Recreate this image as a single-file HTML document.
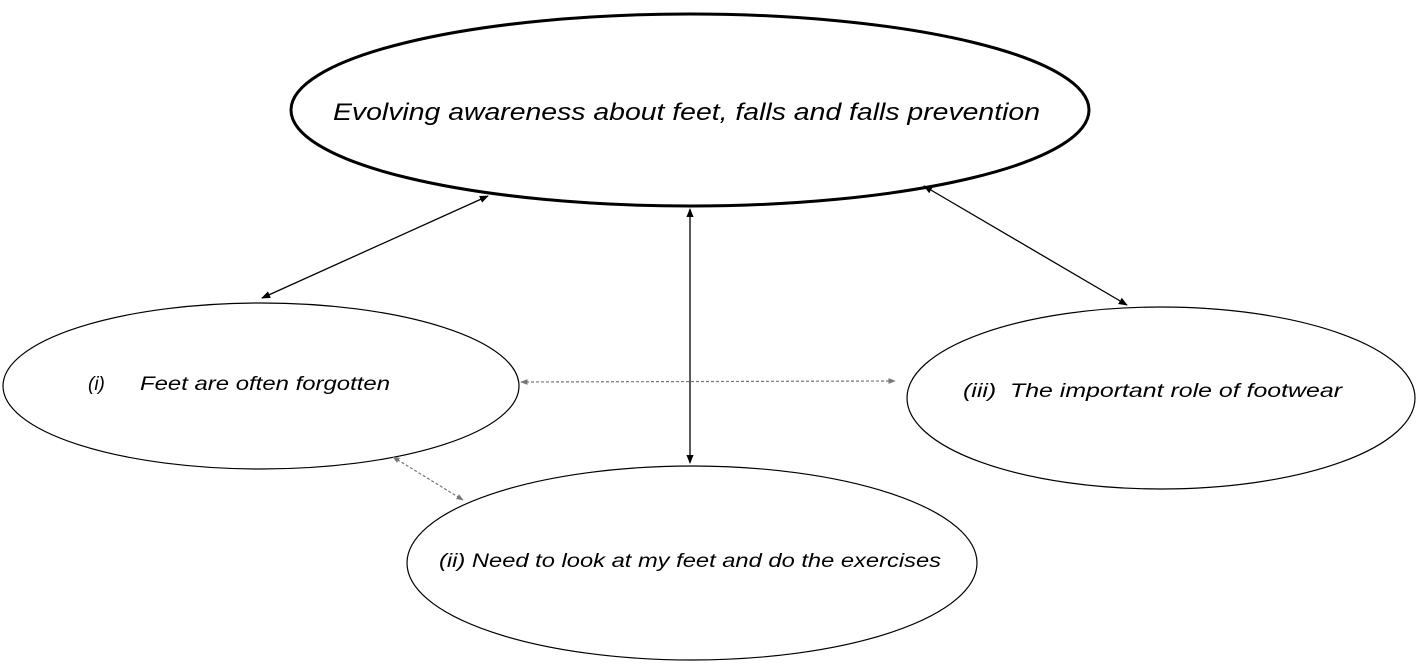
<!DOCTYPE html>
<html><head><meta charset="utf-8"><style>html,body{margin:0;padding:0;background:#fff;}svg{display:block}</style></head>
<body>
<svg width="1418" height="665" viewBox="0 0 1418 665" xmlns="http://www.w3.org/2000/svg">
<defs>
<marker id="ab" viewBox="0 0 10 10" refX="9" refY="5" markerWidth="7" markerHeight="7" orient="auto-start-reverse"><path d="M0,1 L10,5 L0,9 z" fill="#000"/></marker>
<marker id="ag" viewBox="0 0 10 10" refX="9" refY="5" markerWidth="6" markerHeight="6" orient="auto-start-reverse"><path d="M0,1 L10,5 L0,9 z" fill="#777"/></marker>
</defs>
<g fill="#fff" stroke="#000">
<ellipse cx="690" cy="110" rx="399" ry="96" stroke-width="3"/>
<ellipse cx="261" cy="386" rx="258" ry="83" stroke-width="1.2"/>
<ellipse cx="1161" cy="398" rx="254" ry="91" stroke-width="1.2"/>
<ellipse cx="692" cy="563" rx="285" ry="97" stroke-width="1.2"/>
</g>
<g stroke="#000" stroke-width="1.3">
<line x1="488" y1="196" x2="262" y2="298" marker-start="url(#ab)" marker-end="url(#ab)"/>
<line x1="690" y1="209" x2="690" y2="463" marker-start="url(#ab)" marker-end="url(#ab)"/>
<line x1="924" y1="186" x2="1127" y2="305" marker-start="url(#ab)" marker-end="url(#ab)"/>
</g>
<g stroke="#777" stroke-width="1.2" stroke-dasharray="3,2">
<line x1="521" y1="382" x2="895" y2="381" marker-start="url(#ag)" marker-end="url(#ag)"/>
<line x1="393" y1="457" x2="463" y2="500" marker-start="url(#ag)" marker-end="url(#ag)"/>
</g>
<g font-family="Liberation Sans, sans-serif" font-style="italic" fill="#000">
<text x="333" y="120" font-size="24" textLength="707" lengthAdjust="spacingAndGlyphs">Evolving awareness  about feet, falls and falls prevention</text>
<text x="88" y="390" font-size="19" xml:space="preserve">(i)</text>
<text x="140" y="390" font-size="19" textLength="250" lengthAdjust="spacingAndGlyphs">Feet are often forgotten</text>
<text x="963" y="397" font-size="19" textLength="379" lengthAdjust="spacingAndGlyphs" xml:space="preserve">(iii)  The important role of footwear</text>
<text x="439" y="567" font-size="19" textLength="502" lengthAdjust="spacingAndGlyphs">(ii) Need to look at my feet and do the exercises</text>
</g>
</svg>
</body></html>
